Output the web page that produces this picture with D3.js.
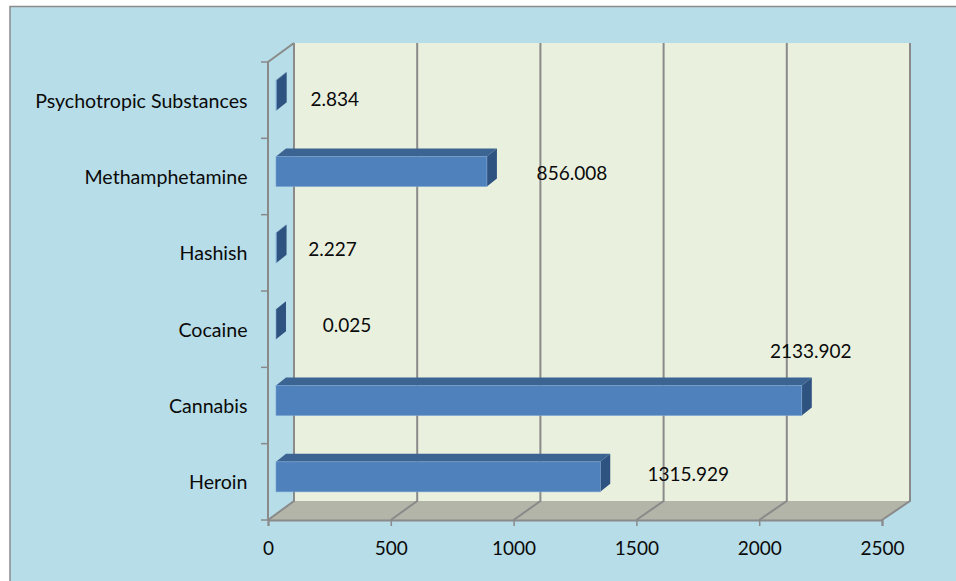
<!DOCTYPE html>
<html><head><meta charset="utf-8">
<script src="https://cdn.jsdelivr.net/npm/d3@7"></script>
<style>
html,body{margin:0;padding:0;background:#fff}
svg{display:block}
text{font-family:Lato,"Open Sans",sans-serif;font-size:19px;fill:#0a0a0a}
text.cat{font-size:19.6px}
</style></head><body>
<svg id="c" width="956" height="581"></svg>
<script>
const categories = ["Heroin","Cannabis","Cocaine","Hashish","Methamphetamine","Psychotropic Substances"];
const values = [1315.929,2133.902,0.025,2.227,856.008,2.834];
const valueLabels = ["1315.929","2133.902","0.025","2.227","856.008","2.834"];
const xTicks = [0,500,1000,1500,2000,2500];

const svg = d3.select("#c");
const x = d3.scaleLinear().domain([0,2500]).range([268,882]);
const xBack = d3.scaleLinear().domain([0,2500]).range([294,910]);
const y = d3.scaleBand().domain(categories).range([520,62]);
const backDy = -19;
const grid = "#8a8a8a";

// panel
svg.append("rect").attr("x",10).attr("y",6.5).attr("width",960).attr("height",590)
  .attr("fill","#b7dde8").attr("stroke","#8c8c8c").attr("stroke-width",1.5);

// back wall and floor
const x0=x(0), x1=x(2500), yB=y.range()[0], yT=y.range()[1];
svg.append("rect").attr("x",xBack(0)).attr("y",yT+backDy).attr("width",xBack(2500)-xBack(0)).attr("height",yB-yT)
  .attr("fill","#e9f0de");
svg.append("polygon").attr("points",[[x0,yB],[x1,yB],[xBack(2500),yB+backDy],[xBack(0),yB+backDy]].join(" "))
  .attr("fill","#b2b5a7");

// gridlines (wall + floor)
const gl = svg.append("g").attr("fill","none").attr("stroke",grid).attr("stroke-width",2);
gl.selectAll("path").data(xTicks).join("path")
  .attr("d",d=>`M${x(d)},${yB}L${xBack(d)},${yB+backDy}L${xBack(d)},${yT+backDy}`);
gl.append("path").attr("d",`M${x0},${yB}L${x0},${yT}L${xBack(0)},${yT+backDy}`);

// axes
const ax = d3.axisBottom(x).tickValues(xTicks).tickSize(6).tickPadding(16).tickFormat(d3.format("d"));
const gx = svg.append("g").attr("transform",`translate(0,${yB})`).call(ax);
gx.select(".domain").attr("stroke",grid).attr("stroke-width",2);
gx.selectAll("line").attr("stroke",grid).attr("stroke-width",1.5);
gx.selectAll("text").style("font-family","Lato").style("font-size","19px").attr("fill","#0a0a0a");

const yTickPos = [...categories.map(c=>y(c)+y.bandwidth()),yT];
svg.append("g").selectAll("line").data(yTickPos).join("line")
  .attr("x1",x0-7).attr("x2",x0).attr("y1",d=>d).attr("y2",d=>d)
  .attr("stroke",grid).attr("stroke-width",1.5);
svg.append("g").selectAll("text").data(categories).join("text").attr("class","cat")
  .attr("x",247.5).attr("y",d=>y(d)+y.bandwidth()/2+0.5).attr("dy","0.35em").attr("text-anchor","end").text(d=>d);

// 3D bars
const barH=30, dX=10, dY=-8, barInset=8;
const bars = svg.append("g").selectAll("g").data(categories.map((c,i)=>({c,v:values[i]}))).join("g");
const barTop = d=>y(d.c)+(y.bandwidth()-barH)/2-5;
const barRight = d=>x(d.v)+barInset+(d.v/2500)*2;
const barLeft = x(0)+barInset;
bars.append("polygon").attr("fill","#3b6493")
  .attr("points",d=>[[barLeft,barTop(d)],[barRight(d),barTop(d)],[barRight(d)+dX,barTop(d)+dY],[barLeft+dX,barTop(d)+dY]].join(" "));
bars.append("polygon").attr("fill","#2f5380")
  .attr("points",d=>[[barRight(d),barTop(d)],[barRight(d)+dX,barTop(d)+dY],[barRight(d)+dX,barTop(d)+barH+dY],[barRight(d),barTop(d)+barH]].join(" "));
bars.append("rect").attr("fill","#4f81bd").attr("stroke","#7ba2cf").attr("stroke-width",0.6)
  .attr("x",barLeft).attr("y",barTop).attr("width",d=>barRight(d)-barLeft).attr("height",barH);

// data labels, placed by hand in the original: offset from bar end / band centre
const labelShift = {"Heroin":[88,-7],"Cannabis":[9,-54],"Cocaine":[71,-4],"Hashish":[56,-3],"Methamphetamine":[85,-3],"Psychotropic Substances":[58,-1]};
svg.append("g").selectAll("text").data(categories.map((c,i)=>({c,v:values[i],t:valueLabels[i]}))).join("text")
  .attr("x",d=>barRight(d)+labelShift[d.c][0]).attr("y",d=>y(d.c)+y.bandwidth()/2+labelShift[d.c][1])
  .attr("dy","0.35em").attr("text-anchor","middle").text(d=>d.t);
</script>
</body></html>
